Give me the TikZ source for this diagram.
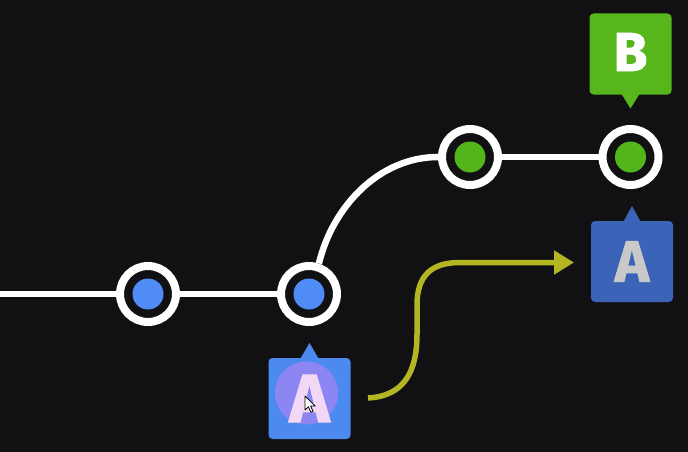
\documentclass[tikz,border=0pt]{standalone}
\usepackage{fontspec}
\newfontfamily\labfont[BoldFeatures={FakeBold=1.6}]{Fira Sans}
\usetikzlibrary{calc,arrows.meta}
\definecolor{bg}{HTML}{111113}
\definecolor{cblue}{HTML}{4F8CF6}
\definecolor{cgreen}{HTML}{52B51A}
\definecolor{lblue}{HTML}{4C8AF0}
\definecolor{lpurp}{HTML}{8C86F3}
\definecolor{lpink}{HTML}{F3D8F6}
\definecolor{dblue}{HTML}{3B64B9}
\definecolor{lgray}{HTML}{C9C9C9}
\definecolor{gbox}{HTML}{56B61C}
\definecolor{olive}{HTML}{B3B523}
\tikzset{
  commit/.style={circle, draw=white, line width=8pt, fill=bg, minimum size=56pt, inner sep=0pt,
    path picture={\fill[#1] (path picture bounding box.center) circle (15.5pt);}},
  branch/.style={draw=white, line width=6.5pt},
  tagbox/.style={rounded corners=4pt, minimum width=82pt, minimum height=81pt, inner sep=0pt, outer sep=0pt,
    font=\labfont\bfseries},
}
\begin{document}
\begin{tikzpicture}[x=1pt,y=-1pt]
\fill[bg] (0,0) rectangle (688,452);
\useasboundingbox (0,0) rectangle (688,452);
% commits
\node[commit=cblue] (b1) at (148,294) {};
\node[commit=cblue] (b2) at (309,294) {};
\node[commit=cgreen] (g1) at (470,157) {};
\node[commit=cgreen] (g2) at (630.5,157) {};
\coordinate (left) at (0,294);
% branch lines
\draw[branch] (left) -- (b1.west);
\draw[branch] (b1.east) -- (b2.west);
\draw[branch] (b2.72) .. controls +(14,-58) and +(-58,0) .. (g1.west);
\draw[branch] (g1.east) -- (g2.west);
% label A (current)
\node[tagbox, fill=lblue, text=lpink, font=\labfont\bfseries\fontsize{68}{68}\selectfont,
  path picture={\fill[lpurp] ($(path picture bounding box.center)+(-3,-5.5)$) circle (31.5pt);}]
  (a1) at (309.5,398.5) {A};
\fill[lblue] ($(a1.north)+(-9,0.5)$) -- ($(a1.north)+(0,-15)$) -- ($(a1.north)+(9,0.5)$) -- cycle;
% cursor
\coordinate (cur) at (305,396);
\draw[black, fill=white, line width=0.8pt, line join=round]
  (cur) -- ++(0,14) -- ++(3.3,-3.2) -- ++(2.6,5.5) -- ++(2.2,-1) -- ++(-2.5,-5.3) -- ++(4.6,0) -- cycle;
% label A (target)
\node[tagbox, fill=dblue, text=lgray, font=\labfont\bfseries\fontsize{58}{58}\selectfont]
  (a2) at (632,261.5) {A};
\fill[dblue] ($(a2.north)+(-8.5,0.5)$) -- ($(a2.north)+(0,-15)$) -- ($(a2.north)+(8.5,0.5)$) -- cycle;
% label B
\node[tagbox, fill=gbox, text=white, font=\labfont\bfseries\fontsize{55}{55}\selectfont]
  (bb) at (630.5,54) {\raisebox{4pt}{B}};
\fill[gbox] ($(bb.south)+(-9,-0.5)$) -- ($(bb.south)+(0,14)$) -- ($(bb.south)+(9,-0.5)$) -- cycle;
% move arrow
\coordinate (ms) at (368,398);
\coordinate (me) at (574,262.5);
\draw[olive, line width=5.5pt, -{Triangle[length=20pt,width=23pt]}]
  (ms) .. controls (404,396) and (417,372) .. (417,334)
  -- (417,305) .. controls (417,276) and (431,262.5) .. (460,262.5) -- (me);
\end{tikzpicture}
\end{document}
